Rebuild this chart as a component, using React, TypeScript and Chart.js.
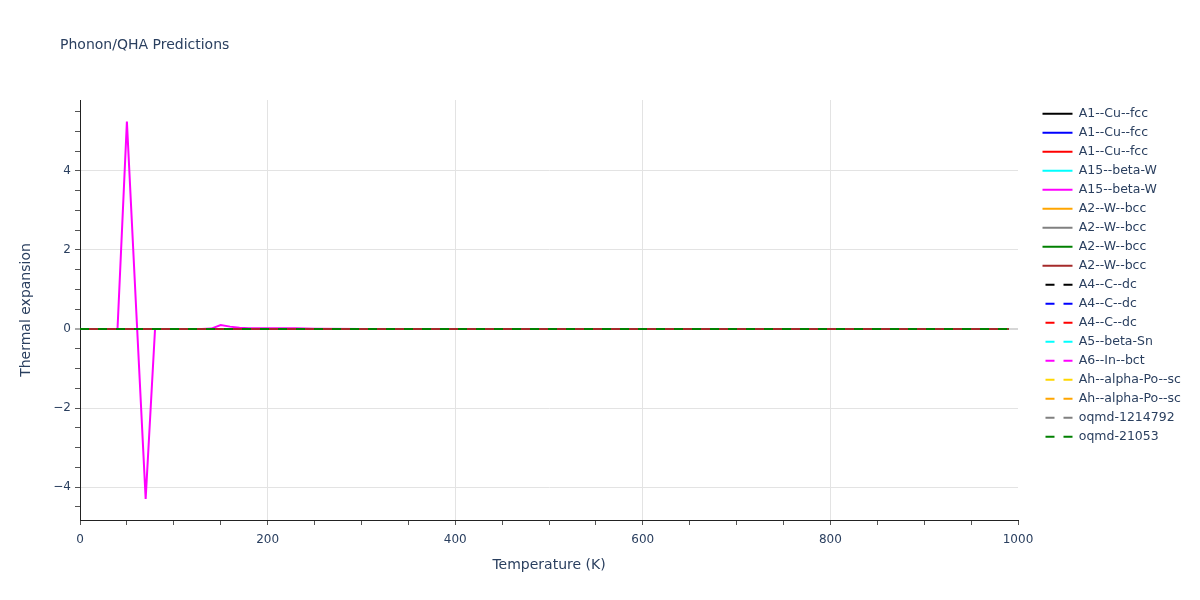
import React, { useEffect, useRef } from "react";
import { Chart, registerables } from "chart.js";

Chart.register(...registerables);

const titleText = "Phonon/QHA Predictions";
const xAxisTitle = "Temperature (K)";
const yAxisTitle = "Thermal expansion";

const seriesLabels = [
  "A1--Cu--fcc",
  "A1--Cu--fcc",
  "A1--Cu--fcc",
  "A15--beta-W",
  "A15--beta-W",
  "A2--W--bcc",
  "A2--W--bcc",
  "A2--W--bcc",
  "A2--W--bcc",
  "A4--C--dc",
  "A4--C--dc",
  "A4--C--dc",
  "A5--beta-Sn",
  "A6--In--bct",
  "Ah--alpha-Po--sc",
  "Ah--alpha-Po--sc",
  "oqmd-1214792",
  "oqmd-21053",
];
const seriesColors = [
  "#000000", "#0000ff", "#ff0000", "#00ffff", "#ff00ff", "#ffa500", "#808080", "#008000", "#a52a2a",
  "#000000", "#0000ff", "#ff0000", "#00ffff", "#ff00ff", "#ffd700", "#ffa500", "#808080", "#008000",
];
const seriesDashed = [
  false, false, false, false, false, false, false, false, false,
  true, true, true, true, true, true, true, true, true,
];

// flat series (all ~0 across the range)
const flatTemperatures = [0, 100, 200, 300, 400, 500, 600, 700, 800, 900, 990];
const flatValues = [0, 0, 0, 0, 0, 0, 0, 0, 0, 0, 0];

// the second A15--beta-W series (magenta, with the spike)
const spikeTemperatures = [
  0, 10, 20, 30, 40, 50, 60, 70, 80, 90, 100, 110, 120, 130, 140, 150, 160, 170, 180, 190,
  200, 210, 220, 230, 240, 250, 300, 400, 500, 600, 700, 800, 900, 990,
];
const spikeValues = [
  0, 0, 0, 0, 0, 5.25, 0.45, -4.3, 0, 0, 0, 0, 0, 0, 0.01, 0.1, 0.06, 0.03, 0.02, 0.02,
  0.02, 0.02, 0.02, 0.02, 0.01, 0.005, 0, 0, 0, 0, 0, 0, 0, 0,
];
const spikeSeriesIndex = 4;

const xTickLabels = [0, 200, 400, 600, 800, 1000];
const yTickLabels = [-4, -2, 0, 2, 4];

const xMin = 0;
const xMax = 1000;
const yMin = -4.835;
const yMax = 5.797;

const TEXT = "#2a3f5f";
const FONT = '"DejaVu Sans", Verdana, sans-serif';

const near = (arr: number[], v: number) => arr.some((t) => Math.abs(t - v) < 1e-6);

export default function App() {
  const canvasRef = useRef<HTMLCanvasElement | null>(null);

  useEffect(() => {
    if (!canvasRef.current) return;

    const datasets = seriesLabels.map((label, i) => {
      const xs = i === spikeSeriesIndex ? spikeTemperatures : flatTemperatures;
      const ys = i === spikeSeriesIndex ? spikeValues : flatValues;
      return {
        label,
        data: xs.map((x, k) => ({ x, y: ys[k] })),
        borderColor: seriesColors[i],
        backgroundColor: seriesColors[i],
        borderWidth: 2,
        borderDash: seriesDashed[i] ? [9, 9] : [],
        pointRadius: 0,
        tension: 0,
        fill: false,
        order: seriesLabels.length - 1 - i,
      };
    });

    const titlePlugin = {
      id: "plotTitle",
      afterInit(chart: any) {
        const lg = chart.legend;
        if (lg) {
          const orig = lg.fit.bind(lg);
          lg.fit = () => {
            orig();
            lg.width = 182;
          };
        }
      },
      afterLayout(chart: any) {
        const lg = chart.legend;
        if (lg) {
          lg.left += 18;
          lg.right += 18;
          lg.top += 1;
          lg.bottom += 1;
        }
      },
      afterDraw(chart: any) {
        const ctx = chart.ctx;
        ctx.save();
        ctx.font = `14px ${FONT}`;
        ctx.fillStyle = TEXT;
        ctx.textAlign = "left";
        ctx.textBaseline = "middle";
        ctx.fillText(titleText, 60, 45);
        ctx.restore();
      },
    };

    const chart = new Chart(canvasRef.current, {
      type: "line",
      data: { datasets: datasets as any },
      plugins: [titlePlugin],
      options: {
        animation: false,
        responsive: false,
        maintainAspectRatio: false,
        layout: { padding: { top: 100, right: 0, bottom: 0, left: 0 } },
        font: { family: FONT },
        plugins: {
          title: { display: false },
          tooltip: { enabled: false },
          legend: {
            display: true,
            position: "right",
            align: "start",
            labels: {
              usePointStyle: true,
              pointStyle: "line",
              pointStyleWidth: 30,
              boxHeight: 12,
              padding: 6.5,
              color: TEXT,
              font: { family: FONT, size: 12.5 },
              generateLabels: (c: any) =>
                c.data.datasets.map((ds: any, i: number) => ({
                  text: ds.label,
                  fillStyle: ds.borderColor,
                  strokeStyle: ds.borderColor,
                  lineWidth: 2,
                  lineDash: ds.borderDash,
                  lineDashOffset: 15,
                  pointStyle: "line",
                  hidden: false,
                  datasetIndex: i,
                  fontColor: TEXT,
                })),
            },
          },
        },
        scales: {
          x: {
            type: "linear",
            min: xMin,
            max: xMax,
            afterFit: (s: any) => {
              s.height = 80;
            },
            border: { display: true, color: "#222", width: 1 },
            grid: {
              color: (ctx: any) =>
                ctx.tick && near([200, 400, 600, 800], ctx.tick.value) ? "#e3e3e3" : "rgba(0,0,0,0)",
              lineWidth: 1,
              tickColor: "#555",
              tickWidth: 1,
              tickLength: 5,
              drawTicks: true,
            },
            ticks: {
              stepSize: 50,
              includeBounds: false,
              autoSkip: false,
              maxRotation: 0,
              padding: 8,
              color: TEXT,
              font: { family: FONT, size: 12 },
              callback: (v: any) => (near(xTickLabels, Number(v)) ? String(v) : ""),
            },
            title: {
              display: true,
              text: xAxisTitle,
              color: TEXT,
              font: { family: FONT, size: 14 },
              padding: { top: 0, bottom: 26 },
            },
          },
          y: {
            type: "linear",
            min: yMin,
            max: yMax,
            afterFit: (s: any) => {
              s.width = 80;
            },
            border: { display: true, color: "#222", width: 1 },
            grid: {
              color: (ctx: any) => {
                if (!ctx.tick) return "rgba(0,0,0,0)";
                if (Math.abs(ctx.tick.value) < 1e-6) return "#d6d6d6";
                return near(yTickLabels, ctx.tick.value) ? "#e3e3e3" : "rgba(0,0,0,0)";
              },
              lineWidth: (ctx: any) => (ctx.tick && Math.abs(ctx.tick.value) < 1e-6 ? 2 : 1),
              tickColor: "#555",
              tickWidth: 1,
              tickLength: 5,
              drawTicks: true,
            },
            ticks: {
              stepSize: 0.5,
              includeBounds: false,
              autoSkip: false,
              padding: 4,
              color: TEXT,
              font: { family: FONT, size: 12 },
              callback: (v: any) => {
                const n = Number(v);
                if (!near(yTickLabels, n)) return "";
                const r = Math.round(n);
                return r < 0 ? "\u2212" + Math.abs(r) : String(r);
              },
            },
            title: {
              display: true,
              text: yAxisTitle,
              color: TEXT,
              font: { family: FONT, size: 14 },
              padding: { top: 18, bottom: 0 },
            },
          },
        },
      } as any,
    });

    return () => chart.destroy();
  }, []);

  return (
    <div style={{ position: "absolute", left: 0, top: 0, width: 1200, height: 600, background: "#fff" }}>
      <canvas ref={canvasRef} width={1200} height={600} style={{ display: "block" }} />
    </div>
  );
}
